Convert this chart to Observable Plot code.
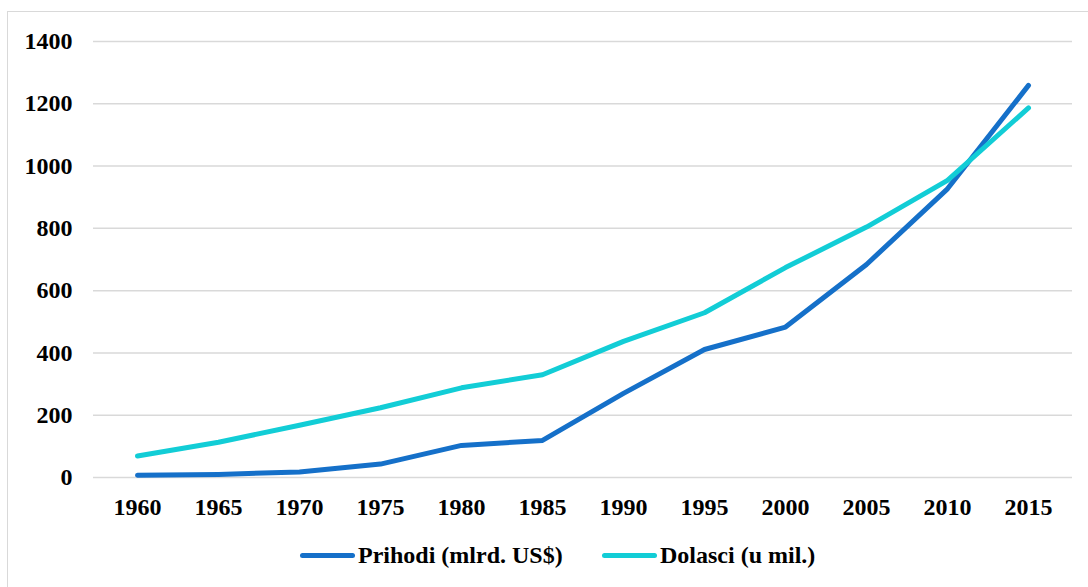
<!DOCTYPE html>
<html>
<head>
<meta charset="utf-8">
<script src="https://cdn.jsdelivr.net/npm/d3@7"></script>
<script src="https://cdn.jsdelivr.net/npm/@observablehq/plot@0.6"></script>
<style>
  html, body { margin: 0; padding: 0; background: #fff; overflow: hidden; width: 1088px; height: 587px; }
  #frame { position: absolute; left: 7px; top: 11px; width: 1100px; height: 600px; border: 1.5px solid #d9d9d9; box-sizing: border-box; }
  #chart { position: absolute; left: 0; top: 0; }
  #legend { position: absolute; left: 0; top: 530px; width: 1088px; height: 57px; font-family: "Liberation Serif", "Times New Roman", serif; font-weight: bold; font-size: 24px; color: #000; }
  .item { position: absolute; top: 12px; display: flex; align-items: center; }
  .swatch { width: 55px; height: 5px; border-radius: 3px; margin-right: 3px; }
</style>
</head>
<body>
<div id="frame"></div>
<div id="chart"></div>
<div id="legend"></div>
<script>
const years = ["1960","1965","1970","1975","1980","1985","1990","1995","2000","2005","2010","2015"];
const prihodi = [7, 10, 18, 43, 103, 119, 270, 411, 483, 684, 927, 1259];
const dolasci = [69, 113, 168, 224, 288, 330, 437, 529, 674, 804, 954, 1187];
const seriesNames = ["Prihodi (mlrd. US$)", "Dolasci (u mil.)"];
const seriesColors = ["#1570c9", "#12cdd6"];
const yTicks = [0, 200, 400, 600, 800, 1000, 1200, 1400];

const rows = [];
years.forEach((y, i) => {
  rows.push({year: y, value: prihodi[i], series: seriesNames[0]});
  rows.push({year: y, value: dolasci[i], series: seriesNames[1]});
});

const plot = Plot.plot({
  width: 1088,
  height: 530,
  marginLeft: 93,
  marginRight: 16,
  marginTop: 41,
  marginBottom: 53,
  style: { fontFamily: "'Liberation Serif', 'Times New Roman', serif", fontWeight: "bold", fontSize: "24px", color: "#000", background: "transparent" },
  x: { type: "point", domain: years, padding: 0.5, label: null },
  y: { domain: [0, 1400], label: null },
  color: { domain: seriesNames, range: seriesColors },
  marks: [
    Plot.gridY(yTicks, { stroke: "#d9d9d9", strokeOpacity: 1, strokeWidth: 1.5 }),
    Plot.axisY(yTicks, { tickSize: 0, tickPadding: 21, label: null, fontSize: 24, fontWeight: "bold", tickFormat: d => String(d) }),
    Plot.axisX({ tickSize: 0, tickPadding: 20, label: null, fontSize: 24, fontWeight: "bold" }),
    Plot.line(rows, { x: "year", y: "value", z: "series", stroke: "series", strokeWidth: 5, strokeLinecap: "round", strokeLinejoin: "round" })
  ]
});
document.getElementById("chart").appendChild(plot);

const legend = document.getElementById("legend");
const lefts = [300, 602];
seriesNames.forEach((name, i) => {
  const item = document.createElement("div");
  item.className = "item";
  item.style.left = lefts[i] + "px";
  const sw = document.createElement("div");
  sw.className = "swatch";
  sw.style.background = seriesColors[i];
  const tx = document.createElement("span");
  tx.textContent = name;
  item.appendChild(sw);
  item.appendChild(tx);
  legend.appendChild(item);
});
</script>
</body>
</html>
